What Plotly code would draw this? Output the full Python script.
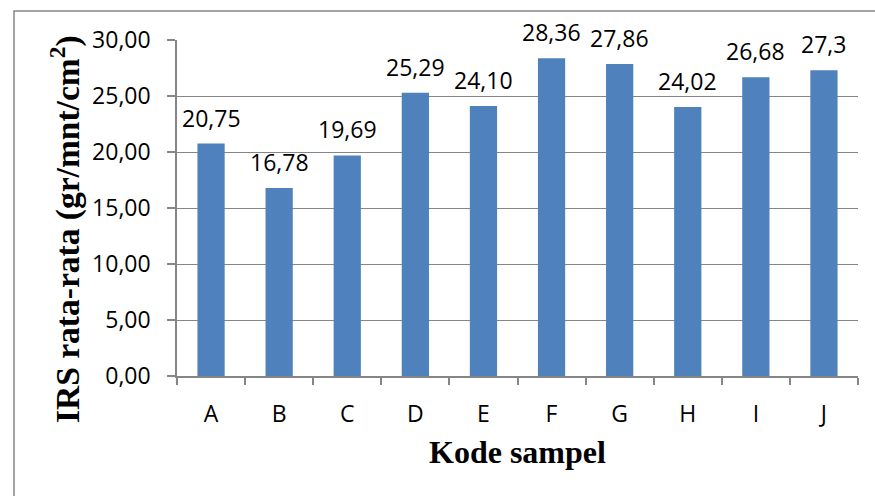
import plotly.graph_objects as go

categories = ["A", "B", "C", "D", "E", "F", "G", "H", "I", "J"]
values = [20.75, 16.78, 19.69, 25.29, 24.10, 28.36, 27.86, 24.02, 26.68, 27.3]
value_labels = ["20,75", "16,78", "19,69", "25,29", "24,10", "28,36", "27,86", "24,02", "26,68", "27,3"]
y_tickvals = [0, 5, 10, 15, 20, 25, 30]
y_ticktext = ["0,00", "5,00", "10,00", "15,00", "20,00", "25,00", "30,00"]
x_title = "Kode sampel"
y_title = "IRS rata-rata (gr/mnt/cm<sup>2</sup>)"

W, H = 875, 496
L, R, T, B = 177, 17, 40, 120
pw, ph = W - L - R, H - T - B

def px(x):
    return (x - L) / pw

def py(y):
    return (H - B - y) / ph

tick_font = dict(family="Open Sans", size=23, color="#000000")
title_font = dict(family="Liberation Serif", size=32, color="#000000")
ytitle_font = dict(family="Liberation Serif", size=33.5, color="#000000")
gray = "#868686"

fig = go.Figure()
fig.add_trace(go.Bar(
    x=categories, y=values, width=0.4,
    marker=dict(color="#4F81BD", line=dict(width=0)),
    hoverinfo="skip",
))

annotations = []
for c, v, t in zip(categories, values, value_labels):
    annotations.append(dict(x=c, y=v, xref="x", yref="y", text=t, showarrow=False,
                            yanchor="middle", yshift=26, font=tick_font))

annotations.append(dict(x=px(517), y=py(452), xref="paper", yref="paper",
                        text="<b>" + x_title + "</b>", showarrow=False,
                        xanchor="center", yanchor="middle", font=title_font))
annotations.append(dict(x=px(65), y=py(229), xref="paper", yref="paper",
                        text="<b>" + y_title + "</b>", showarrow=False, textangle=-90,
                        xanchor="center", yanchor="middle", font=ytitle_font))

fig.update_layout(
    width=W, height=H,
    margin=dict(l=L, r=R, t=T, b=B, pad=0),
    paper_bgcolor="white", plot_bgcolor="white",
    showlegend=False,
    bargap=0.6,
    annotations=annotations,
    shapes=[dict(type="rect", xref="paper", yref="paper",
                 x0=px(14), x1=px(900), y0=py(520), y1=py(11),
                 line=dict(color=gray, width=1.5), layer="below")],
)
fig.update_xaxes(
    showline=True, linecolor=gray, linewidth=1.5,
    ticks="outside", ticklen=7, tickcolor=gray, tickwidth=1.5,
    tickson="boundaries", tickfont=tick_font, showgrid=False,
    ticklabelstandoff=17,
)
fig.update_yaxes(
    range=[0, 30], tickvals=y_tickvals, ticktext=y_ticktext,
    showline=True, linecolor=gray, linewidth=1.5,
    ticks="outside", ticklen=8, tickcolor=gray, tickwidth=1.5,
    showgrid=True, gridcolor=gray, gridwidth=1.2,
    tickfont=tick_font, ticklabelstandoff=12, zeroline=False,
)

fig.write_html("out.html")
